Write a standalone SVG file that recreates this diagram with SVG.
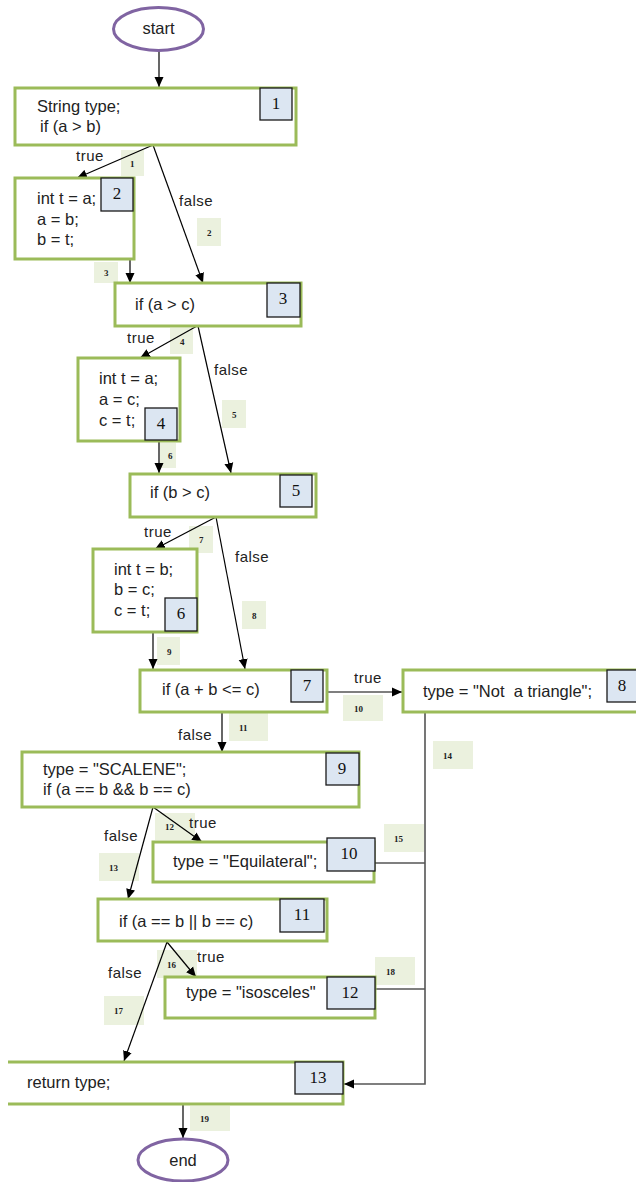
<svg xmlns="http://www.w3.org/2000/svg" width="636" height="1182" viewBox="0 0 636 1182">
<style>
.bg{fill:#fff}
.term{fill:#fff;stroke:#8064A2;stroke-width:3}
.box{fill:#fff;stroke:#9BBB59;stroke-width:3}
.num{fill:#DCE6F2;stroke:#1a1a1a;stroke-width:1.3}
.numt{font-family:"Liberation Serif",serif;font-size:17px;fill:#111;text-anchor:middle}
.t{font-family:"Liberation Sans",Arial,sans-serif;font-size:16.5px;fill:#222}
.lt{font-family:"Liberation Sans",Arial,sans-serif;font-size:15px;fill:#222;letter-spacing:0.5px}
.lb{fill:#EBF1DE}
.lbt{font-family:"Liberation Serif",serif;font-size:9px;font-weight:bold;fill:#222}
.c{fill:none;stroke:#000;stroke-width:1.2}
.cg{fill:none;stroke:#555;stroke-width:1.6}
</style>
<defs>
<marker id="ah" markerWidth="10" markerHeight="10" refX="10" refY="5" orient="auto" markerUnits="userSpaceOnUse">
<path d="M0,0.5 L10,5 L0,9.5 z" fill="#000"/>
</marker>
</defs>
<rect class="bg" x="0" y="0" width="636" height="1182"/>

<g id="edge-labels">
<rect class="lb" x="121" y="150" width="23" height="26"/><text class="lbt" x="130" y="167">1</text>
<rect class="lb" x="197" y="218" width="24" height="28"/><text class="lbt" x="207" y="236">2</text>
<rect class="lb" x="94" y="262" width="24" height="21"/><text class="lbt" x="104" y="276">3</text>
<rect class="lb" x="170" y="328" width="23" height="26"/><text class="lbt" x="180" y="345">4</text>
<rect class="lb" x="222" y="400" width="24" height="28"/><text class="lbt" x="232" y="418">5</text>
<rect class="lb" x="160" y="443" width="16" height="25"/><text class="lbt" x="168" y="459">6</text>
<rect class="lb" x="189" y="526" width="24" height="27"/><text class="lbt" x="199" y="543">7</text>
<rect class="lb" x="242" y="601" width="24" height="28"/><text class="lbt" x="252" y="619">8</text>
<rect class="lb" x="157" y="637" width="23" height="28"/><text class="lbt" x="167" y="655">9</text>
<rect class="lb" x="343" y="695" width="40" height="26"/><text class="lbt" x="354" y="712">10</text>
<rect class="lb" x="229" y="713" width="39" height="28"/><text class="lbt" x="239" y="731">11</text>
<rect class="lb" x="155" y="813" width="40" height="27"/><text class="lbt" x="165" y="830">12</text>
<rect class="lb" x="99" y="853" width="40" height="28"/><text class="lbt" x="109" y="871">13</text>
<rect class="lb" x="433" y="741" width="40" height="28"/><text class="lbt" x="443" y="759">14</text>
<rect class="lb" x="384" y="824" width="40" height="28"/><text class="lbt" x="394" y="842">15</text>
<rect class="lb" x="157" y="950" width="40" height="28"/><text class="lbt" x="167" y="968">16</text>
<rect class="lb" x="104" y="996" width="40" height="29"/><text class="lbt" x="114" y="1014">17</text>
<rect class="lb" x="375" y="957" width="40" height="28"/><text class="lbt" x="386" y="975">18</text>
<rect class="lb" x="190" y="1106" width="40" height="25"/><text class="lbt" x="200" y="1122">19</text>
</g>

<g id="connectors">
<path class="c" d="M159,51 V87" marker-end="url(#ah)"/>
<path class="c" d="M153,145 L77,178" marker-end="url(#ah)"/>
<path class="c" d="M153,145 L203,283" marker-end="url(#ah)"/>
<path class="c" d="M130,259 V283" marker-end="url(#ah)"/>
<path class="c" d="M197,326 L140,358" marker-end="url(#ah)"/>
<path class="c" d="M198,326 L231,473" marker-end="url(#ah)"/>
<path class="c" d="M159,441 V473" marker-end="url(#ah)"/>
<path class="c" d="M216,517 L155,549" marker-end="url(#ah)"/>
<path class="c" d="M216,517 L245,669" marker-end="url(#ah)"/>
<path class="c" d="M153,632 V669" marker-end="url(#ah)"/>
<path class="cg" d="M323,692 H402" marker-end="url(#ah)"/>
<path class="c" d="M222,712 V752" marker-end="url(#ah)"/>
<path class="c" d="M153,807 L202,842" marker-end="url(#ah)"/>
<path class="c" d="M153,807 L128,899" marker-end="url(#ah)"/>
<path class="c" d="M167,942 L196,977" marker-end="url(#ah)"/>
<path class="c" d="M167,942 L124,1061" marker-end="url(#ah)"/>
<path class="cg" d="M425,712 V1084 H344" marker-end="url(#ah)"/>
<path class="cg" d="M375,863 H425"/>
<path class="cg" d="M375,989 H425"/>
<path class="c" d="M183,1104 V1138" marker-end="url(#ah)"/>
<text class="lt" x="76" y="161">true</text>
<text class="lt" x="179" y="206">false</text>
<text class="lt" x="127" y="343">true</text>
<text class="lt" x="214" y="375">false</text>
<text class="lt" x="144" y="537">true</text>
<text class="lt" x="235" y="562">false</text>
<text class="lt" x="354" y="683">true</text>
<text class="lt" x="178" y="740">false</text>
<text class="lt" x="189" y="828">true</text>
<text class="lt" x="104" y="841">false</text>
<text class="lt" x="197" y="962">true</text>
<text class="lt" x="108" y="978">false</text>
</g>

<g id="start">
<ellipse class="term" cx="158.5" cy="29" rx="45" ry="21.5"/>
<text class="t" x="158.5" y="34" text-anchor="middle">start</text>
</g>

<g id="n1">
<rect class="box" x="15" y="88" width="281" height="57"/>
<text class="t" x="37" y="112">String type;</text>
<text class="t" x="40" y="132">if (a &gt; b)</text>
<rect class="num" x="260" y="88" width="32" height="32"/><text class="numt" x="276" y="109">1</text>
</g>

<g id="n2">
<rect class="box" x="15" y="178" width="119" height="81"/>
<text class="t" x="37" y="204">int t = a;</text>
<text class="t" x="37" y="225">a = b;</text>
<text class="t" x="37" y="245">b = t;</text>
<rect class="num" x="101" y="178" width="32" height="33"/><text class="numt" x="117" y="199">2</text>
</g>

<g id="n3">
<rect class="box" x="115" y="283" width="186" height="43"/>
<text class="t" x="135" y="310">if (a &gt; c)</text>
<rect class="num" x="267" y="283" width="33" height="34"/><text class="numt" x="283" y="304">3</text>
</g>

<g id="n4">
<rect class="box" x="78" y="358" width="102" height="83"/>
<text class="t" x="99" y="384">int t = a;</text>
<text class="t" x="99" y="405">a = c;</text>
<text class="t" x="99" y="426">c = t;</text>
<rect class="num" x="145" y="408" width="32" height="32"/><text class="numt" x="161" y="429">4</text>
</g>

<g id="n5">
<rect class="box" x="130" y="474" width="186" height="43"/>
<text class="t" x="150" y="498">if (b &gt; c)</text>
<rect class="num" x="280" y="475" width="32" height="32"/><text class="numt" x="296" y="496">5</text>
</g>

<g id="n6">
<rect class="box" x="93" y="549" width="104" height="83"/>
<text class="t" x="114" y="575">int t = b;</text>
<text class="t" x="114" y="595">b = c;</text>
<text class="t" x="114" y="616">c = t;</text>
<rect class="num" x="165" y="598" width="32" height="33"/><text class="numt" x="181" y="619">6</text>
</g>

<g id="n7">
<rect class="box" x="140" y="670" width="187" height="42"/>
<text class="t" x="162" y="695">if (a + b &lt;= c)</text>
<rect class="num" x="291" y="670" width="32" height="32"/><text class="numt" x="307" y="691">7</text>
</g>

<g id="n8">
<rect class="box" x="403" y="670" width="240" height="42"/>
<text class="t" x="423" y="697" xml:space="preserve">type = "Not  a triangle";</text>
<rect class="num" x="607" y="670" width="35" height="32"/><text class="numt" x="622" y="691">8</text>
</g>

<g id="n9">
<rect class="box" x="22" y="752" width="337" height="55"/>
<text class="t" x="43" y="775">type = "SCALENE";</text>
<text class="t" x="43" y="795">if (a == b &amp;&amp; b == c)</text>
<rect class="num" x="326" y="753" width="33" height="32"/><text class="numt" x="342" y="774">9</text>
</g>

<g id="n10">
<rect class="box" x="153" y="842" width="221" height="40"/>
<text class="t" x="173" y="867">type = "Equilateral";</text>
<rect class="num" x="327" y="838" width="48" height="33"/><text class="numt" x="349" y="859">10</text>
</g>

<g id="n11">
<rect class="box" x="98" y="899" width="229" height="42"/>
<text class="t" x="119" y="927">if (a == b || b == c)</text>
<rect class="num" x="280" y="899" width="44" height="33"/><text class="numt" x="302" y="920">11</text>
</g>

<g id="n12">
<rect class="box" x="165" y="977" width="210" height="41"/>
<text class="t" x="186" y="998">type = "isosceles"</text>
<rect class="num" x="327" y="977" width="48" height="32"/><text class="numt" x="350" y="998">12</text>
</g>

<g id="n13">
<path d="M8,1062 H343 V1104 H8 Z" fill="#fff"/>
<path d="M8,1062 H343 V1104 H8" fill="none" stroke="#9BBB59" stroke-width="3"/>
<text class="t" x="27" y="1088">return type;</text>
<rect class="num" x="295" y="1062" width="48" height="32"/><text class="numt" x="318" y="1083">13</text>
</g>

<g id="end">
<ellipse class="term" cx="183" cy="1160" rx="45" ry="21"/>
<text class="t" x="183" y="1166" text-anchor="middle">end</text>
</g>
</svg>
